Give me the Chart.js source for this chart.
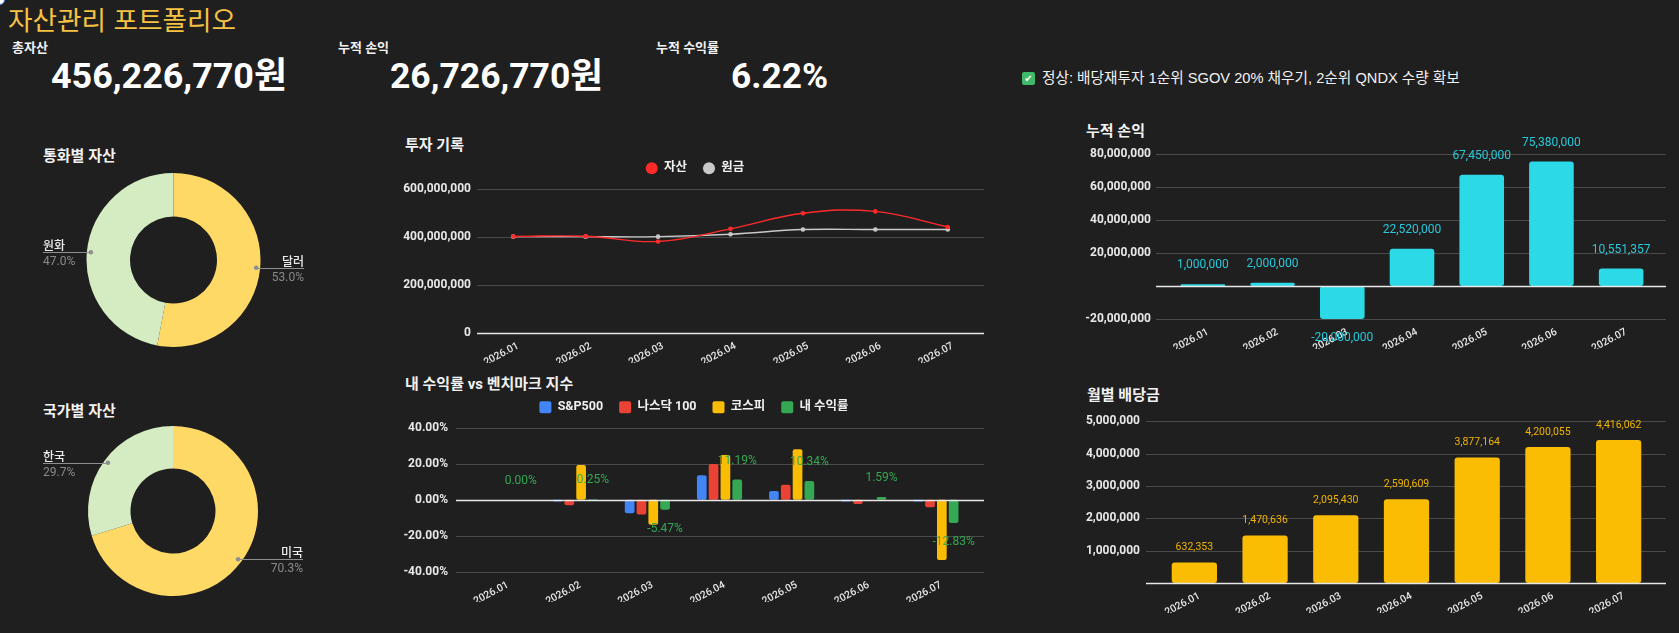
<!DOCTYPE html>
<html lang="ko">
<head>
<meta charset="utf-8">
<script src="https://cdn.jsdelivr.net/npm/chart.js@4.4.1/dist/chart.umd.min.js"></script>
<style>
html,body{margin:0;padding:0;background:#1f1f1f;width:1679px;height:633px;overflow:hidden;}
body{position:relative;font-family:Roboto,"Noto Sans CJK KR",sans-serif;color:#fff;}
.t{position:absolute;white-space:nowrap;}
.lbl{font-size:13px;line-height:15px;font-weight:700;color:#f2f2f2;}
.val{font-size:36px;line-height:40px;font-weight:700;color:#fff;}
.ct{font-size:15px;line-height:18px;font-weight:700;color:#f2f2f2;}
canvas{position:absolute;}
</style>
</head>
<body>
<div style="position:absolute;left:-5px;top:-5px;width:8px;height:8px;border:1.5px solid #3b78e7;border-radius:50%;background:#fff;"></div>
<div class="t" id="mainTitle" style="left:8px;top:5px;font-size:25px;line-height:27px;color:#f6c244;font-family:'Noto Sans CJK KR',sans-serif;"></div>
<div class="t lbl" id="k1" style="left:12px;top:40px;"></div>
<div class="t val" id="v1" style="left:51px;top:56px;"></div>
<div class="t lbl" id="k2" style="left:338px;top:40px;"></div>
<div class="t val" id="v2" style="left:390px;top:56px;"></div>
<div class="t lbl" id="k3" style="left:656px;top:40px;"></div>
<div class="t val" id="v3" style="left:731px;top:56px;"></div>
<div style="position:absolute;left:1022px;top:72px;width:13px;height:13px;background:#3fb96a;border-radius:2px;color:#fff;font:10px/13px 'DejaVu Sans';text-align:center;">✔</div>
<div class="t" id="status" style="left:1042px;top:69px;font-size:14px;line-height:18px;color:#f2f2f2;font-family:'Liberation Sans','Noto Sans CJK KR',sans-serif;"></div>

<div class="t ct" id="t1" style="left:43px;top:147px;"></div>
<div class="t ct" id="t2" style="left:43px;top:402px;"></div>
<div class="t ct" id="t3" style="left:405px;top:136px;"></div>
<div class="t ct" id="t4" style="left:405px;top:375px;"></div>
<div class="t ct" id="t5" style="left:1086px;top:122px;"></div>
<div class="t ct" id="t6" style="left:1087px;top:386px;"></div>

<canvas id="cCurrency" width="261" height="174" style="left:43px;top:173px;"></canvas>
<canvas id="cCountry" width="260" height="170" style="left:43px;top:426px;"></canvas>
<canvas id="cHistory" width="600" height="232" style="left:390px;top:146px;"></canvas>
<canvas id="cReturns" width="600" height="232" style="left:390px;top:385px;"></canvas>
<canvas id="cPnl" width="609" height="245" style="left:1070px;top:120px;"></canvas>
<canvas id="cDiv" width="609" height="235" style="left:1070px;top:395px;"></canvas>

<script>
// ---------- data ----------
const pageTitle = '자산관리 포트폴리오';
const kpiLabels = ['총자산', '누적 손익', '누적 수익률'];
const totalAsset = 456226770;
const totalProfit = 26726770;
const totalReturnPct = 6.22;
const statusText = '정상: 배당재투자 1순위 SGOV 20% 채우기, 2순위 QNDX 수량 확보';
const chartTitles = ['통화별 자산', '국가별 자산', '투자 기록', '내 수익률 vs 벤치마크 지수', '누적 손익', '월별 배당금'];

const months = ['2026.01', '2026.02', '2026.03', '2026.04', '2026.05', '2026.06', '2026.07'];

const currencyLabels = ['달러', '원화'];
const currencyShare = [53.0, 47.0];
const countryLabels = ['미국', '한국'];
const countryShare = [70.3, 29.7];

const historySeries = ['자산', '원금'];
const assetValues = [401000000, 402000000, 380000000, 432520000, 496950000, 504880000, 440051357];
const principalValues = [400000000, 400000000, 400000000, 410000000, 429500000, 429500000, 429500000];

const returnSeries = ['S&P500', '나스닥 100', '코스피', '내 수익률'];
const sp500Returns = [0, -0.9, -7.5, 13.6, 4.9, -0.9, -1.0];
const nasdaqReturns = [0, -3.1, -8.1, 19.8, 8.3, -2.3, -4.2];
const kospiReturns = [0, 19.3, -13.8, 24.8, 27.9, 0, -33.4];
const myReturns = [0.00, 0.25, -5.47, 11.19, 10.34, 1.59, -12.83];

const cumulativePnl = [1000000, 2000000, -20000000, 22520000, 67450000, 75380000, 10551357];
const monthlyDividends = [632353, 1470636, 2095430, 2590609, 3877164, 4200055, 4416062];

// ---------- text ----------
const fmt = v => Math.round(v).toLocaleString('en-US');
function fitWidth(el, target) {
  const w = el.getBoundingClientRect().width;
  const fs = parseFloat(getComputedStyle(el).fontSize);
  if (w > 0) el.style.fontSize = (fs * target / w).toFixed(2) + 'px';
}
const setText = (id, s) => { const el = document.getElementById(id); el.textContent = s; return el; };
fitWidth(setText('mainTitle', pageTitle), 228);
['k1','k2','k3'].forEach((id, i) => setText(id, kpiLabels[i]));
fitWidth(setText('v1', fmt(totalAsset) + '원'), 236);
fitWidth(setText('v2', fmt(totalProfit) + '원'), 213);
fitWidth(setText('v3', totalReturnPct.toFixed(2) + '%'), 97);
fitWidth(setText('status', statusText), 418);
['t1','t2','t3','t4','t5','t6'].forEach((id, i) => setText(id, chartTitles[i]));

// ---------- chart defaults ----------
const FONT = "Roboto, 'Noto Sans CJK KR', sans-serif";
Chart.defaults.font.family = FONT;
Chart.defaults.color = '#e8e8e8';
Chart.defaults.animation = false;

// ---------- plugins ----------
const gridExt = {
  id: 'gridExt',
  beforeDatasetsDraw(chart, args, o) {
    const {ctx, chartArea} = chart; const y = chart.scales.y;
    const x0 = chartArea.left - o.left, x1 = chartArea.right + o.right;
    ctx.save(); ctx.lineWidth = 1; ctx.strokeStyle = o.color;
    y.ticks.forEach(t => {
      if (t.value === 0) return;
      const py = Math.round(y.getPixelForValue(t.value)) + 0.5;
      ctx.beginPath(); ctx.moveTo(x0, py); ctx.lineTo(x1, py); ctx.stroke();
    });
    ctx.restore();
  },
  afterDatasetsDraw(chart, args, o) {
    const {ctx, chartArea} = chart; const y = chart.scales.y;
    const x0 = chartArea.left - o.left, x1 = chartArea.right + o.right;
    const py = Math.round(y.getPixelForValue(0)) + 0.5;
    ctx.save(); ctx.lineWidth = 1.3; ctx.strokeStyle = o.zero;
    ctx.beginPath(); ctx.moveTo(x0, py); ctx.lineTo(x1, py); ctx.stroke();
    ctx.restore();
  }
};

const valueLabels = {
  id: 'valueLabels',
  afterDraw(chart, args, o) {
    const {ctx} = chart;
    const meta = chart.getDatasetMeta(o.dataset);
    const data = chart.data.datasets[o.dataset].data;
    ctx.save();
    ctx.font = o.font; ctx.fillStyle = o.color; ctx.textAlign = 'center'; ctx.textBaseline = 'middle';
    meta.data.forEach((bar, i) => {
      const v = data[i];
      const txt = o.format === 'pct' ? v.toFixed(2) + '%' : Math.round(v).toLocaleString('en-US');
      const yy = v >= 0 ? bar.y - o.offset : bar.y + o.offset;
      ctx.fillText(txt, bar.x, yy);
    });
    ctx.restore();
  }
};

// adds a gap below the legend and nudges it horizontally
const legendTune = {
  id: 'legendTune',
  beforeInit(chart, args, o) {
    const lg = chart.legend;
    const fit = lg.fit;
    lg.fit = function () { fit.call(lg); lg.height += o.gap; };
    const draw = lg.draw;
    lg.draw = function () {
      const c = chart.ctx; c.save(); c.translate(o.dx, 0);
      draw.apply(lg, arguments); c.restore();
    };
  }
};

const leaderLabels = {
  id: 'leaderLabels',
  afterDatasetsDraw(chart) {
    const {ctx, chartArea} = chart;
    const meta = chart.getDatasetMeta(0);
    const data = chart.data.datasets[0].data;
    const total = data.reduce((a, b) => a + b, 0);
    ctx.save();
    meta.data.forEach((arc, i) => {
      const mid = (arc.startAngle + arc.endAngle) / 2;
      const r = arc.outerRadius - 4;
      const px = arc.x + Math.cos(mid) * r, py = arc.y + Math.sin(mid) * r;
      const right = Math.cos(mid) >= 0;
      const ex = right ? chartArea.right : chartArea.left;
      const ly = Math.round(py) + 0.5;
      ctx.strokeStyle = '#8e8e8e'; ctx.lineWidth = 1;
      ctx.beginPath(); ctx.moveTo(px, ly); ctx.lineTo(ex, ly); ctx.stroke();
      ctx.fillStyle = '#8e8e8e'; ctx.beginPath(); ctx.arc(px, py, 2.3, 0, Math.PI * 2); ctx.fill();
      ctx.textAlign = right ? 'right' : 'left'; ctx.textBaseline = 'alphabetic';
      ctx.font = "500 12px " + FONT; ctx.fillStyle = '#ececec';
      ctx.fillText(chart.data.labels[i], ex, ly - 3);
      ctx.font = "12px " + FONT; ctx.fillStyle = '#8a8a8a';
      ctx.fillText((data[i] / total * 100).toFixed(1) + '%', ex, ly + 12);
    });
    ctx.restore();
  }
};

// ---------- doughnuts ----------
function doughnut(id, labels, values) {
  new Chart(document.getElementById(id), {
    type: 'doughnut',
    data: { labels: labels, datasets: [{ data: values, backgroundColor: ['#ffd966', '#d5ecc3'], borderWidth: 0 }] },
    options: {
      responsive: false, maintainAspectRatio: false, cutout: '50%',
      layout: { padding: 0 },
      plugins: { legend: { display: false }, tooltip: { enabled: false } }
    },
    plugins: [leaderLabels]
  });
}
doughnut('cCurrency', currencyLabels, currencyShare);
doughnut('cCountry', countryLabels, countryShare);

const xTicks = { color: '#e6e6e6', font: { size: 10.3, weight: '500' }, minRotation: 28, maxRotation: 28, autoSkip: false, padding: 7, labelOffset: 5 };
const xGrid = { display: false, drawTicks: false };
const yTickFont = { size: 12, weight: 'bold' };

// ---------- history line chart ----------
new Chart(document.getElementById('cHistory'), {
  type: 'line',
  data: {
    labels: months,
    datasets: [
      { label: historySeries[0], data: assetValues, borderColor: '#ff2b2b', backgroundColor: '#ff2b2b', borderWidth: 1.4, pointRadius: 2.3, pointBorderWidth: 0, tension: 0.4 },
      { label: historySeries[1], data: principalValues, borderColor: '#c9c9c9', backgroundColor: '#c9c9c9', borderWidth: 1.4, pointRadius: 2.3, pointBorderWidth: 0, tension: 0.4 }
    ]
  },
  options: {
    responsive: false, maintainAspectRatio: false,
    layout: { padding: { left: 0, right: 6, top: 0, bottom: 15 } },
    plugins: {
      legend: { position: 'top', align: 'center', labels: { usePointStyle: true, pointStyle: 'circle', boxWidth: 12, boxHeight: 8.5, padding: 16, color: '#f0f0f0', font: { size: 12.5, weight: 'bold' } } },
      tooltip: { enabled: false },
      legendTune: { gap: 4, dx: 8 },
      gridExt: { left: 0, right: 0, color: '#4a4a4a', zero: '#e8e8e8' }
    },
    scales: {
      x: { offset: true, grid: xGrid, border: { display: false }, ticks: xTicks, afterFit(s) { s.height = 30; } },
      y: { min: 0, max: 600000000, grid: xGrid, border: { display: false },
           ticks: { stepSize: 200000000, padding: 6, color: '#e8e8e8', font: yTickFont, callback: v => Number(v).toLocaleString('en-US') },
           afterFit(s) { s.width = 87; } }
    }
  },
  plugins: [legendTune, gridExt]
});

// ---------- returns grouped bars ----------
const retColors = ['#4285f4', '#ea4335', '#fbbc04', '#34a853'];
new Chart(document.getElementById('cReturns'), {
  type: 'bar',
  data: {
    labels: months,
    datasets: [sp500Returns, nasdaqReturns, kospiReturns, myReturns].map((d, i) => ({
      label: returnSeries[i], data: d, backgroundColor: retColors[i], borderWidth: 0,
      borderRadius: 2, borderSkipped: false, categoryPercentage: 0.655, barPercentage: 0.82
    }))
  },
  options: {
    responsive: false, maintainAspectRatio: false,
    layout: { padding: { left: 0, right: 18, top: 0, bottom: 15 } },
    plugins: {
      legend: { position: 'top', align: 'center', labels: { boxWidth: 12, boxHeight: 12, useBorderRadius: true, borderRadius: 2, padding: 16, color: '#f0f0f0', font: { size: 12.5, weight: 'bold' } } },
      tooltip: { enabled: false },
      legendTune: { gap: 4, dx: 13 },
      gridExt: { left: 11, right: 12, color: '#4a4a4a', zero: '#e8e8e8' },
      valueLabels: { dataset: 3, format: 'pct', offset: 19, font: '12px ' + FONT, color: '#34a853' }
    },
    scales: {
      x: { grid: xGrid, border: { display: false }, ticks: xTicks, afterFit(s) { s.height = 30; } },
      y: { min: -40, max: 40, grid: xGrid, border: { display: false },
           ticks: { stepSize: 20, padding: 19, color: '#e8e8e8', font: yTickFont, callback: v => Number(v).toFixed(2) + '%' },
           afterFit(s) { s.width = 77; } }
    }
  },
  plugins: [legendTune, gridExt, valueLabels]
});

// ---------- single-series bars ----------
function singleBars(id, values, color, yMin, yMax, step, yWidth, yPad, pad, grid, lbl) {
  new Chart(document.getElementById(id), {
    type: 'bar',
    data: { labels: months, datasets: [{ data: values, backgroundColor: color, borderWidth: 0, borderRadius: 3, borderSkipped: false, categoryPercentage: 0.64, barPercentage: 1 }] },
    options: {
      responsive: false, maintainAspectRatio: false,
      layout: { padding: pad },
      plugins: { legend: { display: false }, tooltip: { enabled: false }, gridExt: grid, valueLabels: lbl },
      scales: {
        x: { grid: xGrid, border: { display: false }, ticks: xTicks, afterFit(s) { s.height = 30; } },
        y: { min: yMin, max: yMax, grid: xGrid, border: { display: false },
             ticks: { stepSize: step, padding: yPad, color: '#e8e8e8', font: yTickFont, callback: v => (v === 0 ? '' : Number(v).toLocaleString('en-US')) },
             afterFit(s) { s.width = yWidth; } }
      }
    },
    plugins: [gridExt, valueLabels]
  });
}
singleBars('cPnl', cumulativePnl, '#2cd9e6', -20000000, 80000000, 20000000, 98, 17,
  { left: 0, right: 23, top: 34, bottom: 16 },
  { left: 12, right: 10, color: '#4a4a4a', zero: '#e8e8e8' },
  { dataset: 0, format: 'int', offset: 19, font: '12px ' + FONT, color: '#27c9da' });
singleBars('cDiv', monthlyDividends, '#fbbc04', 0, 5000000, 1000000, 89, 19,
  { left: 0, right: 25, top: 23, bottom: 17 },
  { left: 13, right: 12, color: '#4a4a4a', zero: '#e8e8e8' },
  { dataset: 0, format: 'int', offset: 15, font: '10.5px ' + FONT, color: '#f0b400' });
</script>
</body>
</html>
